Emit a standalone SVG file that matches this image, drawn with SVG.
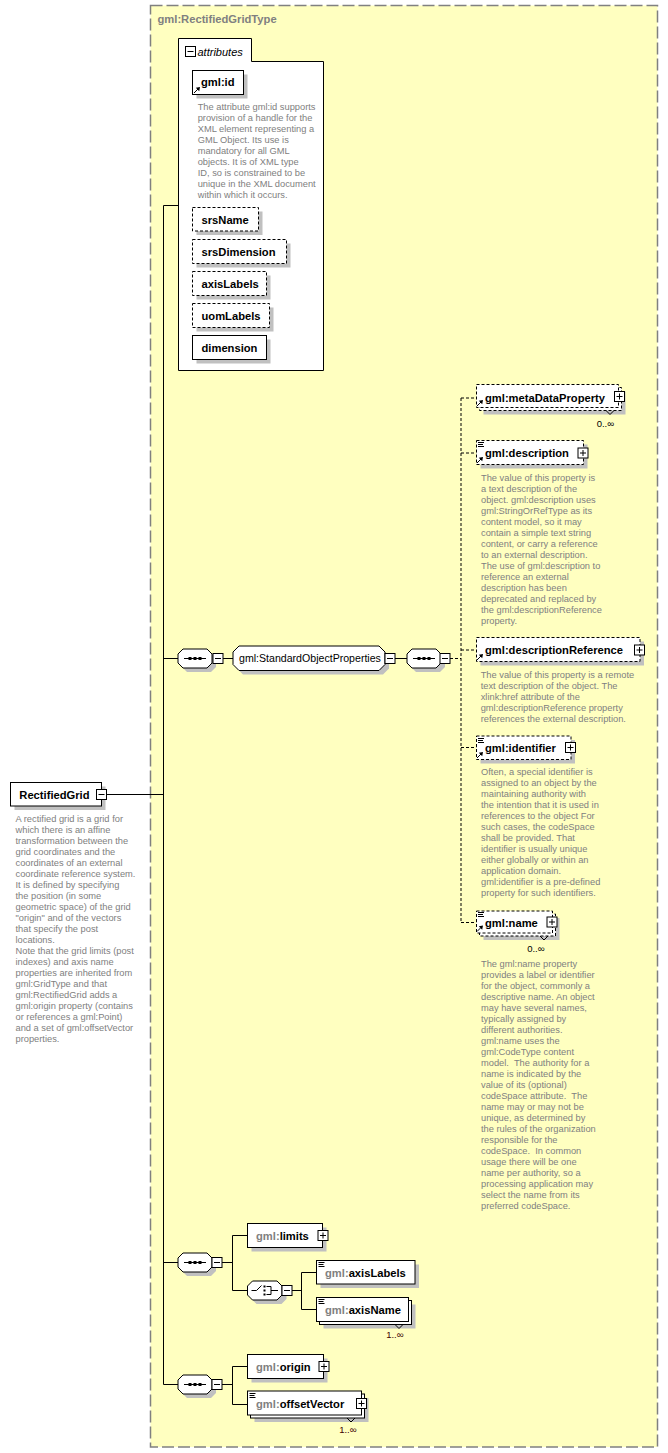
<svg xmlns="http://www.w3.org/2000/svg" width="668" height="1453" viewBox="0 0 668 1453">
<style>
.bg{fill:#ffffc0;stroke:#808080;stroke-width:1.5;stroke-dasharray:12 4}
.box{fill:#fff;stroke:#000;stroke-width:1}
.dbox{fill:#fff;stroke:#000;stroke-width:1;stroke-dasharray:3 2}
.sh{fill:#c0c0c0}
.lbl{font-family:"Liberation Sans",Arial,sans-serif;font-size:11.2px;font-weight:bold;fill:#000}
.reg{font-family:"Liberation Sans",Arial,sans-serif;font-size:10.6px;fill:#000}
.ttl{font-family:"Liberation Sans",Arial,sans-serif;font-size:11.2px;font-weight:bold;fill:#808080}
.ital{font-family:"Liberation Sans",Arial,sans-serif;font-size:11px;font-style:italic;fill:#000}
.doc{font-family:"Liberation Sans",Arial,sans-serif;font-size:9.3px;fill:#808080;white-space:pre}
.occ{font-family:"Liberation Sans",Arial,sans-serif;font-size:9.5px;fill:#000;text-anchor:end}
.ns{fill:#808080}
.conn{stroke:#000;stroke-width:1;fill:none}
.dconn{stroke:#000;stroke-width:1;fill:none;stroke-dasharray:3 2}
</style>
<defs>
<g id="minus"><rect x="0" y="0" width="10" height="10" class="box"/><path d="M2,5H8" class="conn"/></g>
<g id="plus"><rect x="0" y="0" width="10" height="10" class="box"/><path d="M2,5H8M5,2V8" class="conn"/></g>
<g id="seq">
<polygon points="9,4 33,4 38,9 38,18 33,23 9,23 4,18 4,9" class="sh"/>
<polygon points="5,0 29,0 34,5 34,14 29,19 5,19 0,14 0,5" class="box"/>
<path d="M6,9.5H28" class="conn"/>
<rect x="10.5" y="8" width="3" height="3"/><rect x="15.5" y="8" width="3" height="3"/><rect x="20.5" y="8" width="3" height="3"/>
</g>
<g id="ref"><path d="M0,0L4,-4" class="conn"/><polygon points="6,-6 1.8,-5.2 5.2,-1.8"/></g>
<g id="simp"><path d="M0,0.5H6M0,2.5H5M0,4.5H6" class="conn"/></g>
</defs>

<rect id="typebox" x="150.5" y="5.5" width="507" height="1441.5" class="bg"/>
<text class="ttl" x="157.5" y="23">gml:RectifiedGridType</text>

<g id="connectors">
<path d="M107,794.5H163.5M163.5,205.5V1384.5M163.5,205.5H178.5M163.5,658.5H178M223,658.5H233M395,658.5H407" class="conn"/>
<path d="M450,658.5H461M461,398V922.5M461,398H476.5M461,453H476.5M461,650H476.5M461,747.5H476.5M461,922.5H476.5" class="dconn"/>
<path d="M163.5,1262.5H178M222,1262.5H232.5M232.5,1235.5V1290.5M232.5,1235.5H247.5M232.5,1290.5H247.5M292,1290.5H301.5M301.5,1272.5V1309.5M301.5,1272.5H316.5M301.5,1309.5H316.5" class="conn"/>
<path d="M163.5,1384.5H178M222,1384.5H232.5M232.5,1366.5V1404.5M232.5,1366.5H247.5M232.5,1404.5H247.5" class="conn"/>
</g>

<g id="RectifiedGrid">
<rect x="14.5" y="786.5" width="91" height="23.5" class="sh"/>
<rect x="10.5" y="782.5" width="91" height="23.5" class="box"/>
<text class="lbl" x="19.3" y="798.5">RectifiedGrid</text>
<use href="#minus" x="96.5" y="789.5"/>
<text class="doc" x="15.5" y="822"><tspan x="15.5">A rectified grid is a grid for</tspan><tspan x="15.5" dy="11">which there is an affine</tspan><tspan x="15.5" dy="11">transformation between the</tspan><tspan x="15.5" dy="11">grid coordinates and the</tspan><tspan x="15.5" dy="11">coordinates of an external</tspan><tspan x="15.5" dy="11">coordinate reference system.</tspan><tspan x="15.5" dy="11">It is defined by specifying</tspan><tspan x="15.5" dy="11">the position (in some</tspan><tspan x="15.5" dy="11">geometric space) of the grid</tspan><tspan x="15.5" dy="11">"origin" and of the vectors</tspan><tspan x="15.5" dy="11">that specify the post</tspan><tspan x="15.5" dy="11">locations.</tspan><tspan x="15.5" dy="11">Note that the grid limits (post</tspan><tspan x="15.5" dy="11">indexes) and axis name</tspan><tspan x="15.5" dy="11">properties are inherited from</tspan><tspan x="15.5" dy="11">gml:GridType and that</tspan><tspan x="15.5" dy="11">gml:RectifiedGrid adds a</tspan><tspan x="15.5" dy="11">gml:origin property (contains</tspan><tspan x="15.5" dy="11">or references a gml:Point)</tspan><tspan x="15.5" dy="11">and a set of gml:offsetVector</tspan><tspan x="15.5" dy="11">properties.</tspan></text>
</g>

<g id="attributes">
<path d="M178.5,38.5H251.5V61.5H323.5V370.5H178.5Z" class="box"/>
<use href="#minus" x="185.5" y="46.5"/>
<text class="ital" x="197.5" y="55.5">attributes</text>
</g>
<g id="attr-gml-id">
<rect x="196.5" y="74.5" width="51" height="24" class="sh"/>
<rect x="192.5" y="70.5" width="51" height="24" class="box"/>
<text class="lbl" x="201" y="86">gml:id</text>
<use href="#ref" x="194" y="93"/>
<text class="doc" x="197.7" y="110"><tspan x="197.7">The attribute gml:id supports</tspan><tspan x="197.7" dy="11">provision of a handle for the</tspan><tspan x="197.7" dy="11">XML element representing a</tspan><tspan x="197.7" dy="11">GML Object. Its use is</tspan><tspan x="197.7" dy="11">mandatory for all GML</tspan><tspan x="197.7" dy="11">objects. It is of XML type</tspan><tspan x="197.7" dy="11">ID, so is constrained to be</tspan><tspan x="197.7" dy="11">unique in the XML document</tspan><tspan x="197.7" dy="11">within which it occurs.</tspan></text>
</g>
<g id="attr-srsName">
<rect x="196.5" y="211.5" width="66" height="23.5" class="sh"/>
<rect x="192.5" y="207.5" width="66" height="23.5" class="dbox"/>
<text class="lbl" x="201.5" y="223.5">srsName</text>
</g>
<g id="attr-srsDimension">
<rect x="196.5" y="243.5" width="94" height="24" class="sh"/>
<rect x="192.5" y="239.5" width="94" height="24" class="dbox"/>
<text class="lbl" x="201.5" y="255.5">srsDimension</text>
</g>
<g id="attr-axisLabels">
<rect x="196.5" y="275.5" width="74" height="24" class="sh"/>
<rect x="192.5" y="271.5" width="74" height="24" class="dbox"/>
<text class="lbl" x="201.5" y="287.5">axisLabels</text>
</g>
<g id="attr-uomLabels">
<rect x="196.5" y="307.5" width="77" height="24" class="sh"/>
<rect x="192.5" y="303.5" width="77" height="24" class="dbox"/>
<text class="lbl" x="201.5" y="319.5">uomLabels</text>
</g>
<g id="attr-dimension">
<rect x="196.5" y="339.5" width="74" height="24" class="sh"/>
<rect x="192.5" y="335.5" width="74" height="24" class="box"/>
<text class="lbl" x="201.5" y="351.5">dimension</text>
</g>

<g id="seq1"><use href="#seq" x="178" y="649"/><use href="#minus" x="213" y="653.5"/></g>
<g id="StandardObjectProperties">
<polygon points="243,650 383,650 389,656 389,668.5 383,674.5 243,674.5 237,668.5 237,656" class="sh"/>
<polygon points="239,646 379,646 385,652 385,664.5 379,670.5 239,670.5 233,664.5 233,652" class="box"/>
<text class="reg" x="239" y="662">gml:StandardObjectProperties</text>
<use href="#minus" x="385" y="653.5"/>
</g>
<g id="seq2"><use href="#seq" x="407" y="649"/><use href="#minus" x="440" y="653.5"/></g>

<g id="metaDataProperty">
<rect x="483.5" y="391.5" width="142" height="23" class="sh"/>
<rect x="479.5" y="387.5" width="142" height="23" class="dbox"/>
<path d="M606,410.5L610,414.5L614,410.5" class="conn"/>
<rect x="476.5" y="384.5" width="142" height="23" class="dbox"/>
<use href="#ref" x="477" y="406"/>
<text class="lbl" x="485" y="401.5">gml:metaDataProperty</text>
<use href="#plus" x="614.5" y="391.5"/>
<text class="occ" x="614" y="427">0..∞</text>
</g>
<g id="description">
<rect x="480.5" y="444.5" width="107" height="24" class="sh"/>
<rect x="476.5" y="440.5" width="107" height="24" class="dbox"/>
<use href="#simp" x="478" y="442"/>
<use href="#ref" x="477" y="463"/>
<text class="lbl" x="485" y="456.5">gml:description</text>
<use href="#plus" x="578" y="448"/>
<text class="doc" x="481" y="481"><tspan x="481">The value of this property is</tspan><tspan x="481" dy="11">a text description of the</tspan><tspan x="481" dy="11">object. gml:description uses</tspan><tspan x="481" dy="11">gml:StringOrRefType as its</tspan><tspan x="481" dy="11">content model, so it may</tspan><tspan x="481" dy="11">contain a simple text string</tspan><tspan x="481" dy="11">content, or carry a reference</tspan><tspan x="481" dy="11">to an external description.</tspan><tspan x="481" dy="11">The use of gml:description to</tspan><tspan x="481" dy="11">reference an external</tspan><tspan x="481" dy="11">description has been</tspan><tspan x="481" dy="11">deprecated and replaced by</tspan><tspan x="481" dy="11">the gml:descriptionReference</tspan><tspan x="481" dy="11">property.</tspan></text>
</g>
<g id="descriptionReference">
<rect x="480.5" y="641.5" width="163.5" height="24" class="sh"/>
<rect x="476.5" y="637.5" width="163.5" height="24" class="dbox"/>
<use href="#ref" x="477" y="660"/>
<text class="lbl" x="485" y="653.5">gml:descriptionReference</text>
<use href="#plus" x="634.5" y="645"/>
<text class="doc" x="480.7" y="677.5"><tspan x="480.7">The value of this property is a remote</tspan><tspan x="480.7" dy="11">text description of the object. The</tspan><tspan x="480.7" dy="11">xlink:href attribute of the</tspan><tspan x="480.7" dy="11">gml:descriptionReference property</tspan><tspan x="480.7" dy="11">references the external description.</tspan></text>
</g>
<g id="identifier">
<rect x="480.5" y="740" width="94.5" height="23.5" class="sh"/>
<rect x="476.5" y="736" width="94.5" height="23.5" class="dbox"/>
<use href="#simp" x="478" y="738"/>
<use href="#ref" x="477" y="758"/>
<text class="lbl" x="485" y="751.5">gml:identifier</text>
<use href="#plus" x="565.5" y="742.5"/>
<text class="doc" x="481" y="775"><tspan x="481">Often, a special identifier is</tspan><tspan x="481" dy="11">assigned to an object by the</tspan><tspan x="481" dy="11">maintaining authority with</tspan><tspan x="481" dy="11">the intention that it is used in</tspan><tspan x="481" dy="11">references to the object For</tspan><tspan x="481" dy="11">such cases, the codeSpace</tspan><tspan x="481" dy="11">shall be provided. That</tspan><tspan x="481" dy="11">identifier is usually unique</tspan><tspan x="481" dy="11">either globally or within an</tspan><tspan x="481" dy="11">application domain.</tspan><tspan x="481" dy="11">gml:identifier is a pre-defined</tspan><tspan x="481" dy="11">property for such identifiers.</tspan></text>
</g>
<g id="name">
<rect x="483.5" y="918" width="76" height="22" class="sh"/>
<rect x="479.5" y="914" width="76" height="22" class="dbox"/>
<path d="M540,936L544,940L548,936" class="conn"/>
<rect x="476.5" y="911" width="76" height="22" class="dbox"/>
<use href="#simp" x="478" y="912"/>
<use href="#ref" x="477" y="931.5"/>
<text class="lbl" x="485" y="926.5">gml:name</text>
<use href="#plus" x="547" y="917"/>
<text class="occ" x="544.5" y="952">0..∞</text>
<text class="doc" x="481" y="966.5"><tspan x="481">The gml:name property</tspan><tspan x="481" dy="11">provides a label or identifier</tspan><tspan x="481" dy="11">for the object, commonly a</tspan><tspan x="481" dy="11">descriptive name. An object</tspan><tspan x="481" dy="11">may have several names,</tspan><tspan x="481" dy="11">typically assigned by</tspan><tspan x="481" dy="11">different authorities.</tspan><tspan x="481" dy="11">gml:name uses the</tspan><tspan x="481" dy="11">gml:CodeType content</tspan><tspan x="481" dy="11">model.  The authority for a</tspan><tspan x="481" dy="11">name is indicated by the</tspan><tspan x="481" dy="11">value of its (optional)</tspan><tspan x="481" dy="11">codeSpace attribute.  The</tspan><tspan x="481" dy="11">name may or may not be</tspan><tspan x="481" dy="11">unique, as determined by</tspan><tspan x="481" dy="11">the rules of the organization</tspan><tspan x="481" dy="11">responsible for the</tspan><tspan x="481" dy="11">codeSpace.  In common</tspan><tspan x="481" dy="11">usage there will be one</tspan><tspan x="481" dy="11">name per authority, so a</tspan><tspan x="481" dy="11">processing application may</tspan><tspan x="481" dy="11">select the name from its</tspan><tspan x="481" dy="11">preferred codeSpace.</tspan></text>
</g>

<g id="seq3"><use href="#seq" x="178" y="1253"/><use href="#minus" x="212" y="1257.5"/></g>
<g id="limits">
<rect x="251.5" y="1227.5" width="75" height="24" class="sh"/>
<rect x="247.5" y="1223.5" width="75" height="24" class="box"/>
<text class="lbl" x="256" y="1239.5"><tspan class="ns">gml:</tspan>limits</text>
<use href="#plus" x="318" y="1230.5"/>
</g>
<g id="choice">
<polygon points="256.5,1285 276.5,1285 286.5,1290 286.5,1299 281.5,1304 256.5,1304 251.5,1299 251.5,1290" class="sh"/>
<polygon points="252.5,1281 277,1281 282,1286 282,1295 277,1300 252.5,1300 247.5,1295 247.5,1286" class="box"/>
<path d="M251.5,1290.5H256.5L261.5,1285.5M266.5,1286.5H271V1294.5H266.5M271,1290.5H278" class="conn"/>
<rect x="263.5" y="1285.5" width="2" height="2"/><rect x="263.5" y="1289.5" width="2" height="2"/><rect x="263.5" y="1293.5" width="2" height="2"/>
<use href="#minus" x="282" y="1285.5"/>
</g>
<g id="axisLabels">
<rect x="320.5" y="1264.5" width="98.5" height="23.5" class="sh"/>
<rect x="316.5" y="1260.5" width="98.5" height="23.5" class="box"/>
<use href="#simp" x="318.5" y="1262"/>
<text class="lbl" x="325" y="1276.5"><tspan class="ns">gml:</tspan>axisLabels</text>
</g>
<g id="axisName">
<rect x="323.5" y="1304.5" width="92" height="24" class="sh"/>
<rect x="319.5" y="1300.5" width="92" height="24" class="box"/>
<path d="M395,1324.5L399,1328.5L403,1324.5" class="conn"/>
<rect x="316.5" y="1297.5" width="92" height="24" class="box"/>
<use href="#simp" x="318.5" y="1299"/>
<text class="lbl" x="325" y="1313.5"><tspan class="ns">gml:</tspan>axisName</text>
<text class="occ" x="403.5" y="1338" style="fill:#400000">1..∞</text>
</g>

<g id="seq4"><use href="#seq" x="178" y="1375"/><use href="#minus" x="212" y="1379.5"/></g>
<g id="origin">
<rect x="251.5" y="1358.5" width="76" height="24" class="sh"/>
<rect x="247.5" y="1354.5" width="76" height="24" class="box"/>
<text class="lbl" x="256" y="1370.5"><tspan class="ns">gml:</tspan>origin</text>
<use href="#plus" x="319" y="1361.5"/>
</g>
<g id="offsetVector">
<rect x="254.5" y="1398" width="114" height="24" class="sh"/>
<rect x="250.5" y="1394" width="114" height="24" class="box"/>
<path d="M347,1418L351,1422L355,1418" class="conn"/>
<rect x="247.5" y="1391" width="114" height="24" class="box"/>
<use href="#simp" x="249.5" y="1393"/>
<text class="lbl" x="256" y="1407.5"><tspan class="ns">gml:</tspan>offsetVector</text>
<use href="#plus" x="356.5" y="1398.5"/>
<text class="occ" x="356.5" y="1433" style="fill:#400000">1..∞</text>
</g>
</svg>
